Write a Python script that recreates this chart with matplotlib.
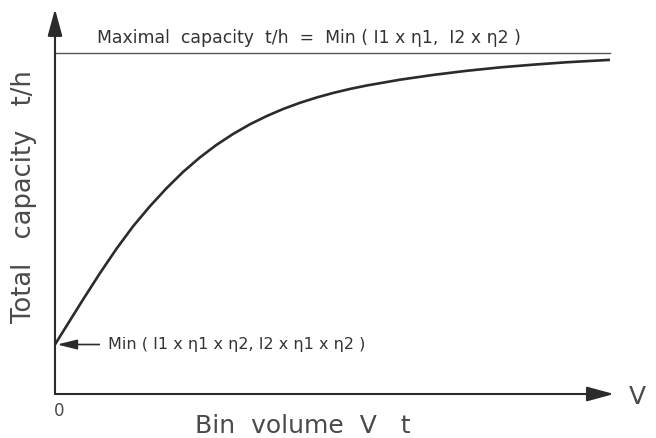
import matplotlib
matplotlib.use("Agg")
import matplotlib.pyplot as plt

# Bin volume V (arbitrary units) and total capacity (% of the maximal capacity)
bin_volume = [0.0, 0.21, 0.51, 0.81, 1.11, 1.41, 1.71, 2.01, 2.31, 2.61,
              2.91, 3.21, 3.51, 3.81, 4.11, 4.41, 4.72, 5.01, 5.32, 5.62,
              6.22, 6.82, 7.42, 8.02, 8.62, 9.22, 10.0]
total_capacity = [14.5, 20.0, 27.8, 35.4, 42.6, 49.2, 55.0, 60.3, 65.1, 69.3,
                  73.0, 76.2, 79.0, 81.4, 83.5, 85.3, 86.9, 88.2, 89.4, 90.4,
                  92.1, 93.5, 94.7, 95.7, 96.5, 97.2, 97.9]
max_capacity = 100.0

max_label = "Maximal  capacity  t/h  =  Min ( I1 x η1,  I2 x η2 )"
min_label = "Min ( I1 x η1 x η2, I2 x η1 x η2 )"
x_label = "Bin  volume  V   t"
y_label = "Total   capacity   t/h"

ink = "#2b2b2b"
text_color = "#333333"
label_color = "#4a4a4a"

fig = plt.figure(figsize=(6.56, 4.38), dpi=100)
ax = fig.add_axes([0, 0, 1, 1])
ax.set_xlim(-0.991, 10.829)
ax.set_ylim(-12.89, 115.44)
ax.axis("off")

# Axes drawn as arrows from the origin
axis_arrow = dict(arrowstyle="-|>,head_length=1.65,head_width=0.45",
                  color=ink, lw=1.5, shrinkA=0, shrinkB=0)
ax.annotate("", xy=(10.07, 0), xytext=(0, 0), arrowprops=axis_arrow)
ax.annotate("", xy=(0, 112.8), xytext=(0, 0), arrowprops=axis_arrow)

# Maximal capacity asymptote
ax.plot([0, bin_volume[-1]], [max_capacity, max_capacity], color="#555555", lw=1.0)

# Capacity curve
ax.plot(bin_volume, total_capacity, color=ink, lw=1.9,
        solid_joinstyle="round", solid_capstyle="butt")

# Annotation of the starting value
ax.annotate("", xy=(0.04, total_capacity[0]), xytext=(0.8, total_capacity[0]),
            arrowprops=dict(arrowstyle="-|>,head_length=1.2,head_width=0.3",
                            color=ink, lw=1.2, shrinkA=0, shrinkB=0))
ax.text(0.95, total_capacity[0], min_label, fontsize=11.5, color=text_color,
        va="center", ha="left")

ax.text(0.76, 104.3, max_label, fontsize=12.4, color=text_color,
        va="center", ha="left")

# Axis labels
ax.text(0.07, -4.9, "0", fontsize=12, color=label_color, ha="center", va="center")
ax.text(10.5, -0.9, "V", fontsize=18, color=label_color, ha="center", va="center")
ax.text(4.47, -9.5, x_label, fontsize=18, color=label_color, ha="center", va="center")
ax.text(-0.55, 57.8, y_label, fontsize=18.5, color=label_color, ha="center",
        va="center", rotation=90)

fig.savefig("out.png", dpi=100, facecolor="white")
